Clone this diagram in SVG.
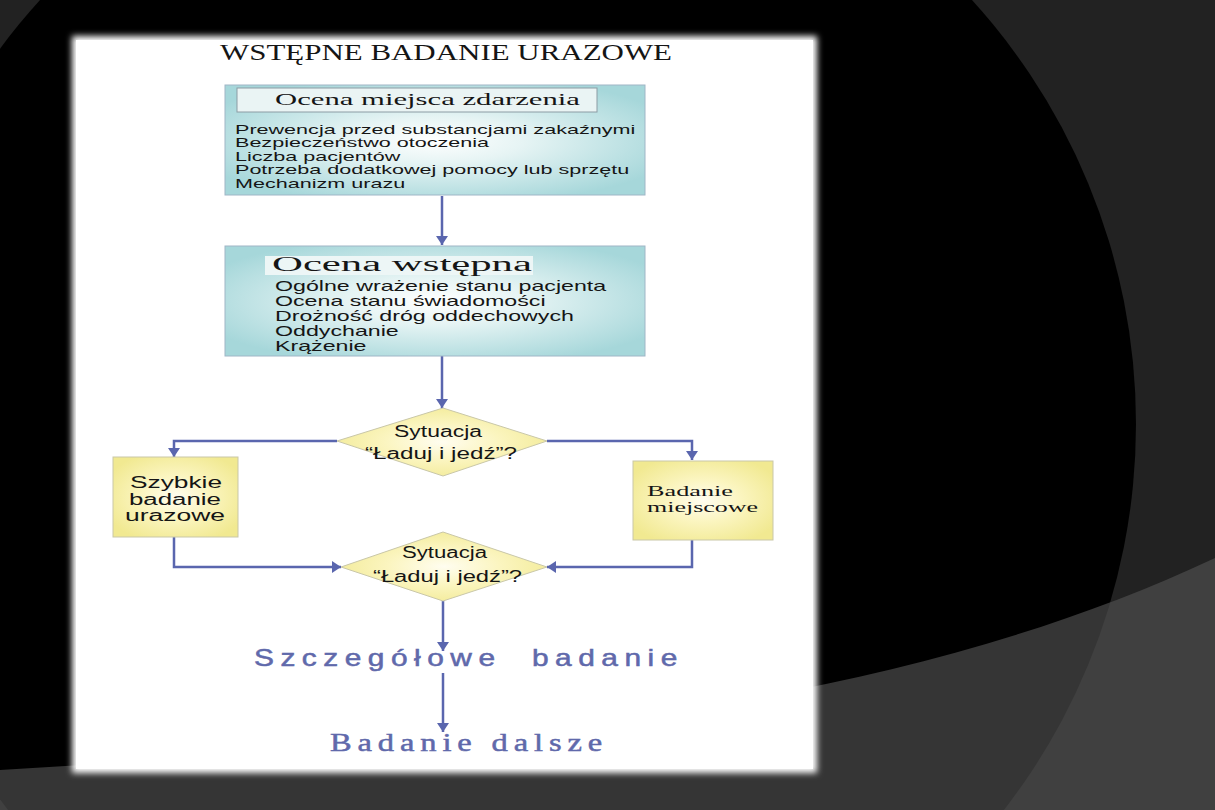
<svg xmlns="http://www.w3.org/2000/svg" width="1215" height="810" viewBox="0 0 1215 810">
<defs>
<filter id="soft" x="-5%" y="-5%" width="110%" height="110%"><feGaussianBlur stdDeviation="3"/></filter>
<radialGradient id="teal" cx="50%" cy="50%" r="60%"><stop offset="0" stop-color="#ffffff"/><stop offset="0.35" stop-color="#e6f4f4"/><stop offset="1" stop-color="#a6d7da"/></radialGradient>
<radialGradient id="yel" cx="50%" cy="50%" r="60%"><stop offset="0" stop-color="#fffdf0"/><stop offset="0.45" stop-color="#fbf5c0"/><stop offset="1" stop-color="#f1e991"/></radialGradient>
<marker id="arr" viewBox="0 0 10 10" refX="10" refY="5" markerWidth="9" markerHeight="12" markerUnits="userSpaceOnUse" orient="auto" preserveAspectRatio="none"><path d="M0,0 L10,5 L0,10 z" fill="#5a66ae"/></marker>
<style>
.sans{font-family:"Liberation Sans",Arial,sans-serif;fill:#151515}
.serif{font-family:"Liberation Serif","Times New Roman",serif;fill:#151515}
.tbox{fill:url(#teal);stroke:#9fb6c6;stroke-width:1}
.ybox{fill:url(#yel);stroke:#c9c7a8;stroke-width:1}
.con{fill:none;stroke:#5a66ae;stroke-width:2.5;marker-end:url(#arr)}
.blue{fill:#6069ab;stroke:#6069ab;stroke-width:0.5}
</style>
</defs>
<g id="background">
<rect width="1215" height="810" fill="#222222"/>
<circle cx="506" cy="424" r="630" fill="#000000"/>
<path d="M0,770 C400,745 850,730 1215,558 L1215,810 L0,810 Z" fill="#4e4e4e" fill-opacity="0.68"/>
<rect x="72" y="36" width="745" height="737" fill="#ffffff" filter="url(#soft)"/>
<rect x="76" y="40" width="737" height="729" fill="#ffffff"/>
</g>
<g id="title"><text class="serif" x="220" y="60" font-size="23" textLength="452" lengthAdjust="spacingAndGlyphs">WSTĘPNE BADANIE URAZOWE</text></g>
<g id="connectors">
<line class="con" x1="442" y1="196" x2="442" y2="245"/>
<line class="con" x1="442" y1="356" x2="442" y2="408"/>
<polyline class="con" points="337,441 174,441 174,457"/>
<polyline class="con" points="547,441 692,441 692,460"/>
<polyline class="con" points="174,537 174,567 341,567"/>
<polyline class="con" points="692,540 692,567 547,567"/>
<line class="con" x1="443" y1="601" x2="443" y2="651"/>
<line class="con" x1="443" y1="673" x2="443" y2="732"/>
</g>
<g id="node-ocena-miejsca">
<rect class="tbox" x="225" y="85" width="420" height="110"/>
<rect x="237" y="88" width="360" height="24" fill="#eaf4f4" stroke="#8c9ca4" stroke-width="1"/>
<text class="serif" x="275" y="105" font-size="17" textLength="305" lengthAdjust="spacingAndGlyphs">Ocena miejsca zdarzenia</text>
<g transform="translate(235 0) scale(1.66 1)">
<text class="sans" x="0" y="134" font-size="13">Prewencja przed substancjami zakaźnymi</text>
<text class="sans" x="0" y="147.5" font-size="13">Bezpieczeństwo otoczenia</text>
<text class="sans" x="0" y="161" font-size="13">Liczba pacjentów</text>
<text class="sans" x="0" y="174.5" font-size="13">Potrzeba dodatkowej pomocy lub sprzętu</text>
<text class="sans" x="0" y="188" font-size="13">Mechanizm urazu</text>
</g>
</g>
<g id="node-ocena-wstepna">
<rect class="tbox" x="225" y="246" width="420" height="110"/>
<rect x="265" y="256" width="268" height="19" fill="#edf6f6"/>
<text class="serif" x="272" y="271" font-size="20" textLength="260" lengthAdjust="spacingAndGlyphs">Ocena wstępna</text>
<g transform="translate(275 0) scale(1.6 1)">
<text class="sans" x="0" y="291" font-size="14.5">Ogólne wrażenie stanu pacjenta</text>
<text class="sans" x="0" y="306.5" font-size="14.5">Ocena stanu świadomości</text>
<text class="sans" x="0" y="321.5" font-size="14.5">Drożność dróg oddechowych</text>
<text class="sans" x="0" y="336.5" font-size="14.5">Oddychanie</text>
<text class="sans" x="0" y="351" font-size="14.5">Krążenie</text>
</g>
</g>
<g id="node-decyzja-1">
<polygon class="ybox" points="443,408 547,441 443,476 337,441"/>
<text class="sans" x="394" y="437" font-size="16" textLength="88" lengthAdjust="spacingAndGlyphs">Sytuacja</text>
<text class="sans" x="365" y="459" font-size="16" textLength="152" lengthAdjust="spacingAndGlyphs">“Ładuj i jedź”?</text>
</g>
<g id="node-szybkie">
<rect class="ybox" x="113" y="457" width="125" height="80"/>
<text class="sans" x="130" y="488" font-size="16" textLength="92" lengthAdjust="spacingAndGlyphs">Szybkie</text>
<text class="sans" x="129" y="505" font-size="16" textLength="92" lengthAdjust="spacingAndGlyphs">badanie</text>
<text class="sans" x="125" y="521" font-size="16" textLength="100" lengthAdjust="spacingAndGlyphs">urazowe</text>
</g>
<g id="node-miejscowe">
<rect class="ybox" x="633" y="461" width="140" height="79"/>
<text class="serif" x="647" y="496" font-size="15" textLength="86" lengthAdjust="spacingAndGlyphs">Badanie</text>
<text class="serif" x="647" y="512" font-size="15" textLength="111" lengthAdjust="spacingAndGlyphs">miejscowe</text>
</g>
<g id="node-decyzja-2">
<polygon class="ybox" points="443,532 547,567 443,601 341,567"/>
<text class="sans" x="402" y="558" font-size="16" textLength="85" lengthAdjust="spacingAndGlyphs">Sytuacja</text>
<text class="sans" x="373" y="582" font-size="16" textLength="149" lengthAdjust="spacingAndGlyphs">“Ładuj i jedź”?</text>
</g>
<g id="node-szczegolowe">
<text class="sans blue" transform="translate(254 666) scale(1.3 1)" x="0" y="0" font-size="23" letter-spacing="5">Szczegółowe</text>
<text class="sans blue" transform="translate(532 666) scale(1.3 1)" x="0" y="0" font-size="23" letter-spacing="5">badanie</text>
</g>
<g id="node-dalsze">
<text class="serif blue" transform="translate(330 751) scale(1.25 1)" x="0" y="0" font-size="26" letter-spacing="4.7">Badanie dalsze</text>
</g>
</svg>
